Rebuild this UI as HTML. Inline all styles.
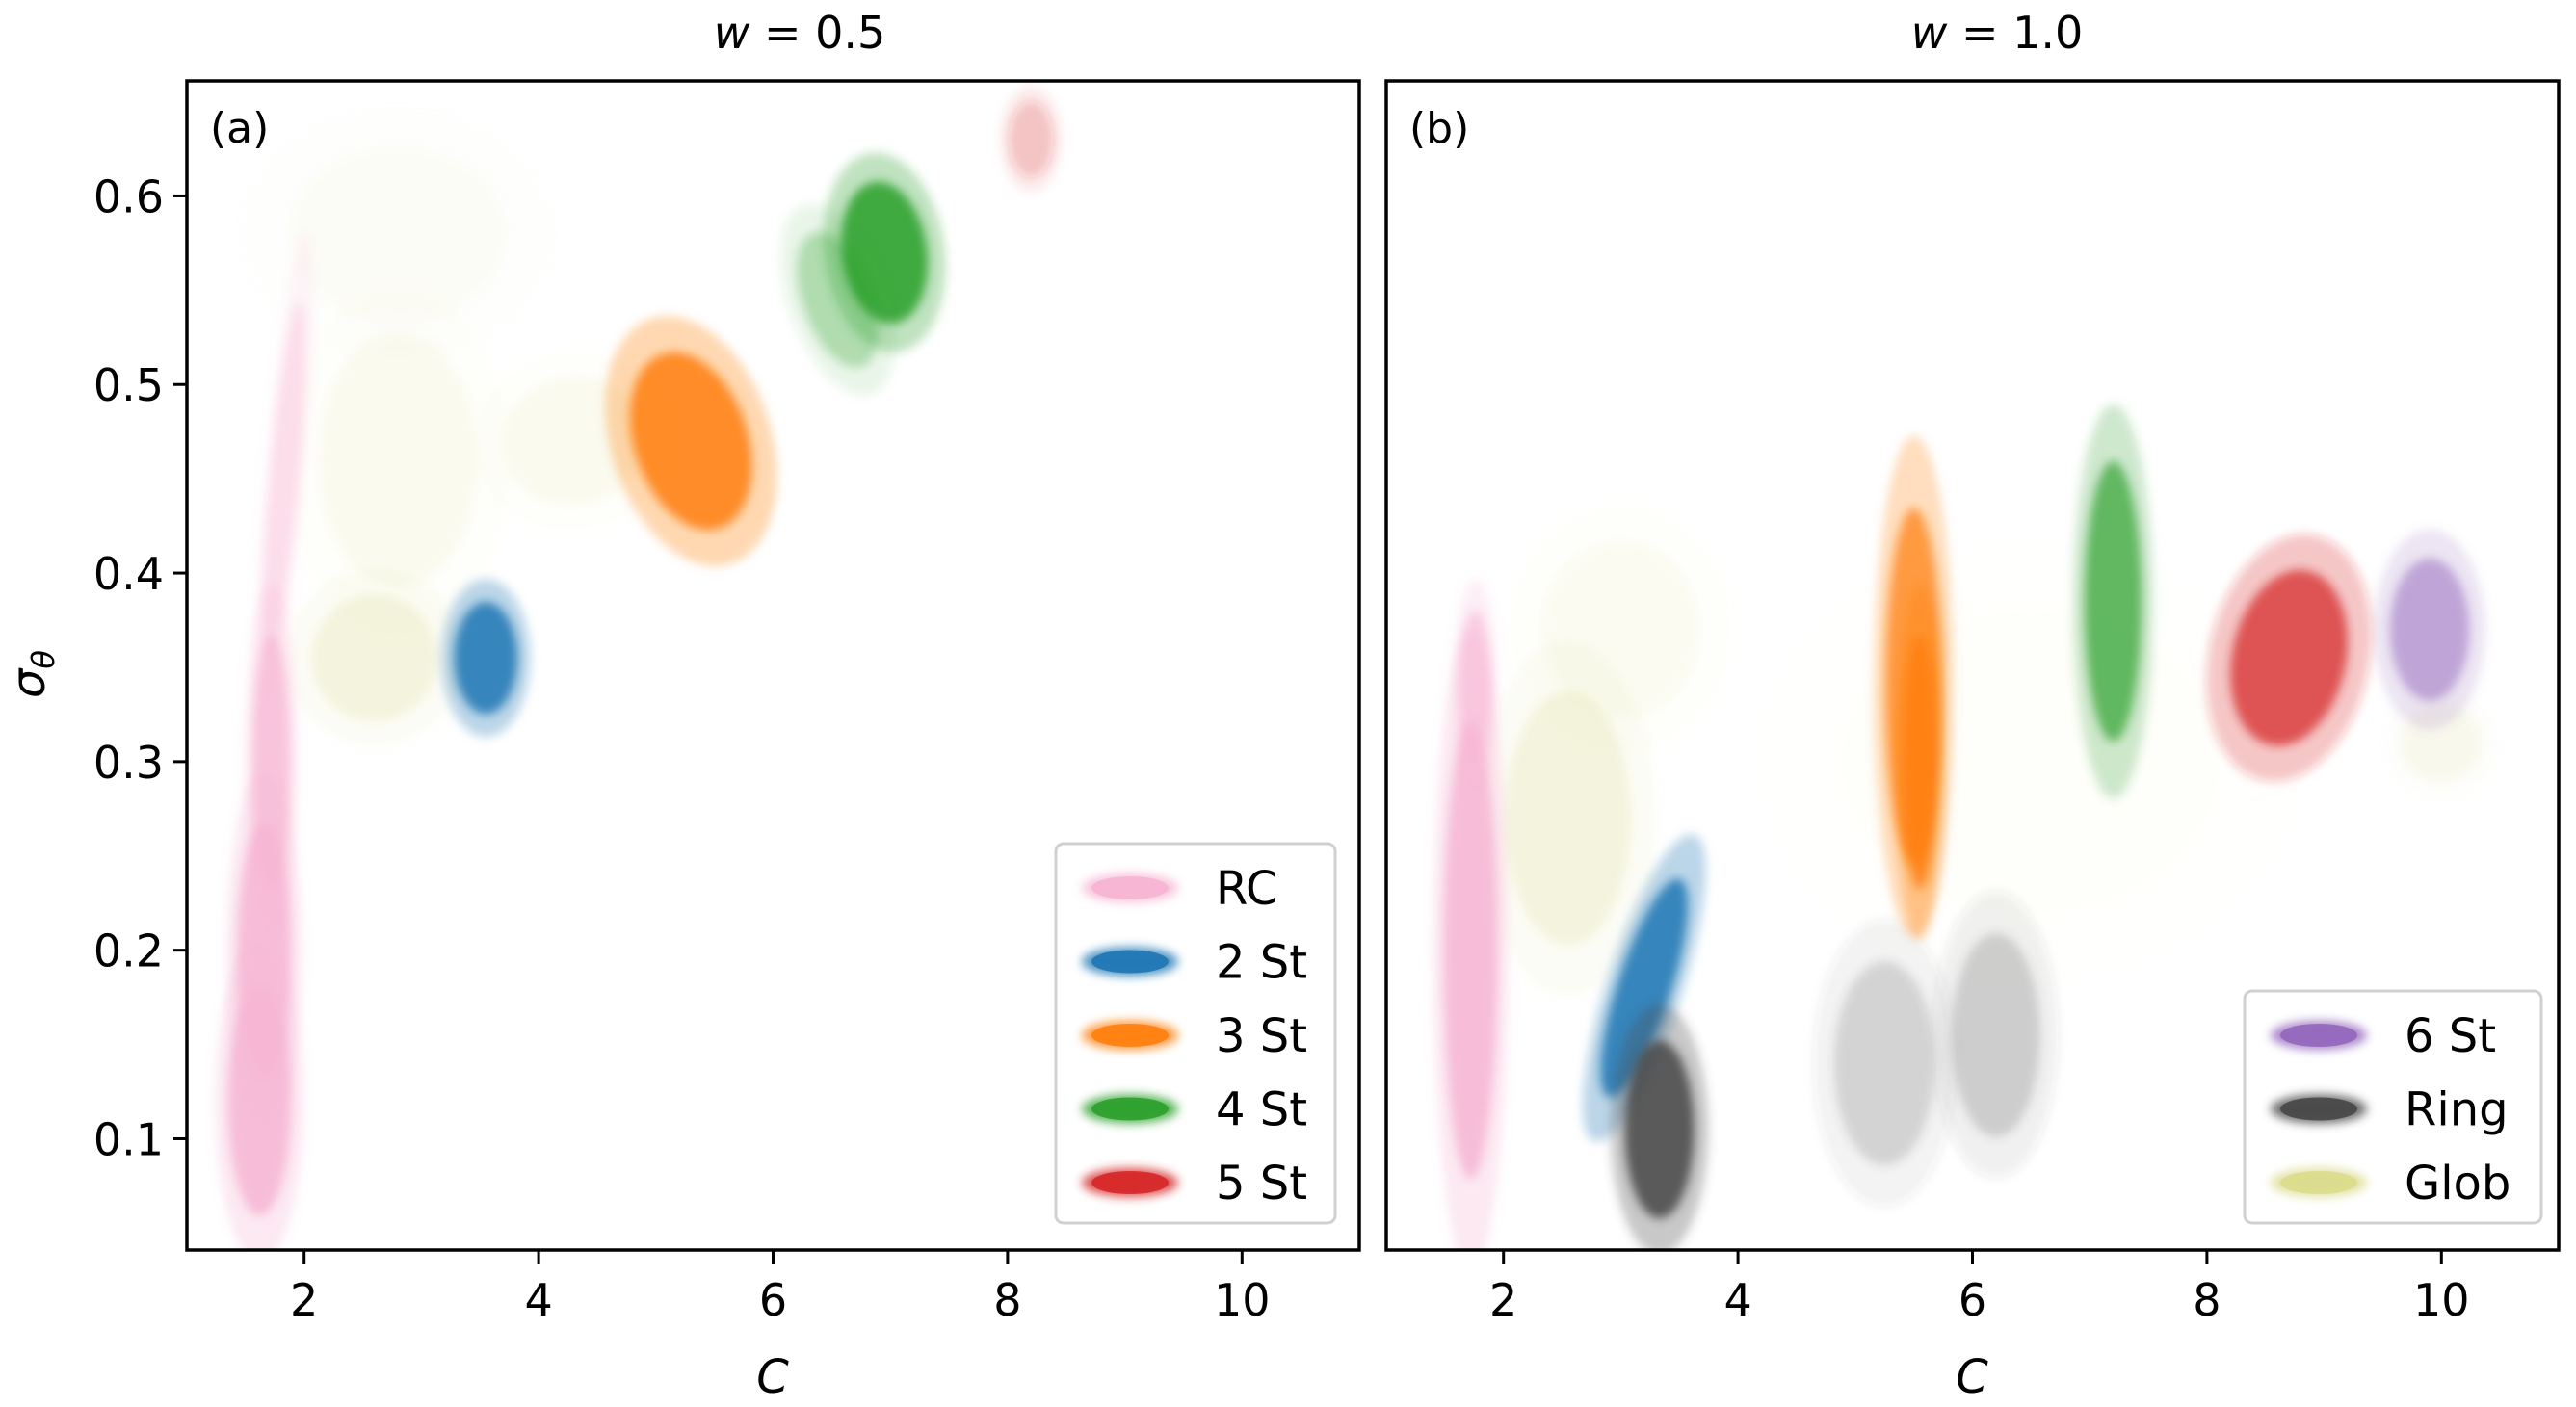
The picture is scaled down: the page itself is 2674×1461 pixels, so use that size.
<!DOCTYPE html>
<html><head><meta charset="utf-8"><style>
html,body{margin:0;padding:0;background:#fff;}
svg{display:block;font-family:"DejaVu Sans","Liberation Sans",sans-serif;}
</style></head><body>
<svg id="fig" width="2674" height="1461" viewBox="0 0 2674 1461" xmlns="http://www.w3.org/2000/svg">
<defs>
<filter id="blur" x="-50%" y="-50%" width="200%" height="200%"><feGaussianBlur stdDeviation="5"/></filter>
<clipPath id="clipA"><rect x="194" y="84" width="1217" height="1214"/></clipPath>
<clipPath id="clipB"><rect x="1439" y="84" width="1217" height="1214"/></clipPath>
</defs>
<text x="830" y="50" font-size="46" text-anchor="middle"><tspan font-style="italic">w</tspan> = 0.5</text>
<text x="2073" y="50" font-size="46" text-anchor="middle"><tspan font-style="italic">w</tspan> = 1.0</text>
<text transform="translate(46,700) rotate(-90)" font-size="48" text-anchor="middle" font-style="italic">σ<tspan font-size="32" dy="10">θ</tspan></text>
<text x="802" y="1446" font-size="48" text-anchor="middle" font-style="italic">C</text>
<text x="2047" y="1446" font-size="48" text-anchor="middle" font-style="italic">C</text>
<g id="layer"></g>
</svg>
<script>
// axis ranges
const xMin = 1, xMax = 11, yMin = 0.041, yMax = 0.661;
const xTicks = [2, 4, 6, 8, 10];
const yTicks = [0.1, 0.2, 0.3, 0.4, 0.5, 0.6];
const yTickLabels = ["0.1", "0.2", "0.3", "0.4", "0.5", "0.6"];
// panel (a) clusters
const aNames = ["glob","glob","glob","glob","rc","rc","rc","rc","st2","st3","st4","st4","st5"];
const aCx = [2.6, 2.8, 4.3, 2.8, 1.62, 1.66, 1.72, 1.83, 3.55, 5.3, 6.95, 6.55, 8.2];
const aCy = [0.355, 0.46, 0.47, 0.58, 0.12, 0.2, 0.3, 0.45, 0.355, 0.47, 0.57, 0.545, 0.63];
const aSx = [0.4, 0.5, 0.45, 0.7, 0.2, 0.17, 0.12, 0.09, 0.2, 0.36, 0.27, 0.22, 0.14];
const aSy = [0.025, 0.05, 0.025, 0.035, 0.045, 0.05, 0.05, 0.07, 0.022, 0.036, 0.028, 0.028, 0.015];
const aDens = [0.28, 0.12, 0.12, 0.06, 1, 1, 0.85, 0.45, 1, 1, 1, 0.35, 0.25];
const aTilt = [0, 0, -10, 0, 0, 0, 0, 5, 0, -18, -8, -20, 0];
// panel (b) clusters
const bNames = ["glob","glob","glob","glob","rc","rc","st2","ring","ring","ring","st3","st3","st4","st5","st6"];
const bCx = [2.55, 3.0, 6.5, 10.0, 1.72, 1.76, 3.2, 3.33, 5.25, 6.2, 5.5, 5.55, 7.2, 8.7, 9.9];
const bCy = [0.27, 0.37, 0.3, 0.31, 0.2, 0.34, 0.18, 0.105, 0.14, 0.155, 0.34, 0.3, 0.385, 0.355, 0.37];
const bSx = [0.4, 0.5, 1.2, 0.25, 0.17, 0.1, 0.17, 0.22, 0.32, 0.28, 0.18, 0.11, 0.18, 0.36, 0.25];
const bSy = [0.05, 0.035, 0.06, 0.015, 0.09, 0.03, 0.045, 0.035, 0.04, 0.04, 0.07, 0.05, 0.055, 0.035, 0.028];
const bDens = [0.28, 0.1, 0.04, 0.15, 1, 0.7, 1, 1, 0.22, 0.26, 0.85, 1, 0.8, 0.85, 0.6];
const bTilt = [0, 0, 0, 0, 0, 0, 18, 0, 0, 0, 0, 0, 0, 12, 0];
const colors = {rc:"#f6b5d3", st2:"#1f77b4", st3:"#ff7f0e", st4:"#2ca02c", st5:"#d62728", st6:"#9467bd", ring:"#474747", glob:"#dbdb8d"};
const legendA = ["rc","st2","st3","st4","st5"], legendAText = ["RC","2 St","3 St","4 St","5 St"];
const legendB = ["st6","ring","glob"], legendBText = ["6 St","Ring","Glob"];

const NS = "http://www.w3.org/2000/svg";
const layer = document.getElementById("layer");
const Y0 = 84, Y1 = 1298, W = 1217;
function mk(tag, attrs, parent){const e=document.createElementNS(NS,tag);for(const k in attrs)e.setAttribute(k,attrs[k]);(parent||layer).appendChild(e);return e;}
function panel(x0, names, cx, cy, sx, sy, dens, tilt, clip, tag, lab, leg, legText, legBox){
  const xs = c => x0 + (c - xMin) / (xMax - xMin) * W;
  const ys = v => Y0 + (yMax - v) / (yMax - yMin) * (Y1 - Y0);
  const kx = W / (xMax - xMin), ky = (Y1 - Y0) / (yMax - yMin);
  const g = mk("g", {"clip-path": "url(#" + clip + ")"});
  
  
  for (let i = 0; i < names.length; i++) {
    const px = xs(cx[i]), py = ys(cy[i]);
    const rx = sx[i] * kx, ry = sy[i] * ky;
    const grp = mk("g", {transform: "rotate(" + tilt[i] + " " + px + " " + py + ")", filter: "url(#blur)"}, g);
    
    
    mk("ellipse", {cx: px, cy: py, rx: rx * 1.9, ry: ry * 1.9, fill: colors[names[i]], opacity: dens[i] * 0.3}, grp);
    mk("ellipse", {cx: px, cy: py, rx: rx * 1.35, ry: ry * 1.35, fill: colors[names[i]], opacity: dens[i] * 0.85}, grp);
  }
  const fr = mk("rect", {x: x0, y: Y0, width: W, height: Y1 - Y0, fill: "none", stroke: "#000", "stroke-width": 3.5});
  
  
  xTicks.forEach(t => {
    const x = xs(t);
    const l = mk("line", {x1: x, x2: x, y1: Y1, y2: Y1 + 14, stroke: "#000", "stroke-width": 3});
    
    
    const tx = mk("text", {x: x, y: Y1 + 68, "font-size": 46, "text-anchor": "middle"});
    tx.textContent = String(t);
    
    
  });
  if (tag === "a") {
    yTicks.forEach((t, i) => {
      const y = ys(t);
      const l = mk("line", {x1: x0 - 14, x2: x0, y1: y, y2: y, stroke: "#000", "stroke-width": 3});
      
      
      const tx = mk("text", {x: x0 - 24, y: y + 17, "font-size": 46, "text-anchor": "end"});
      tx.textContent = yTickLabels[i];
      
      
    });
  }
  const pl = mk("text", {x: x0 + 24, y: 148, "font-size": 44});
  pl.textContent = lab;
  
  
  const lb = mk("rect", {x: legBox[0], y: legBox[1], width: legBox[2], height: legBox[3], rx: 8, fill: "#fff", "fill-opacity": 0.85, stroke: "#d0d0d0", "stroke-width": 3});
  
  
  leg.forEach((k, i) => {
    const yy = legBox[1] + 46 + i * 76.5;
    const mx = legBox[0] + 77;
    const e = mk("ellipse", {cx: mx, cy: yy, rx: 50, ry: 15, fill: colors[k], opacity: 0.8, filter: "url(#blur)"});
    
    
    const e2 = mk("ellipse", {cx: mx, cy: yy, rx: 40, ry: 12, fill: colors[k], opacity: 0.9});
    
    
    const t = mk("text", {x: legBox[0] + 166, y: yy + 17, "font-size": 48});
    t.textContent = legText[i];
    
    
  });
}
panel(194, aNames, aCx, aCy, aSx, aSy, aDens, aTilt, "clipA", "a", "(a)", legendA, legendAText, [1096, 876, 290, 394]);
panel(1439, bNames, bCx, bCy, bSx, bSy, bDens, bTilt, "clipB", "b", "(b)", legendB, legendBText, [2330, 1029, 308, 241]);
</script>
</body></html>
